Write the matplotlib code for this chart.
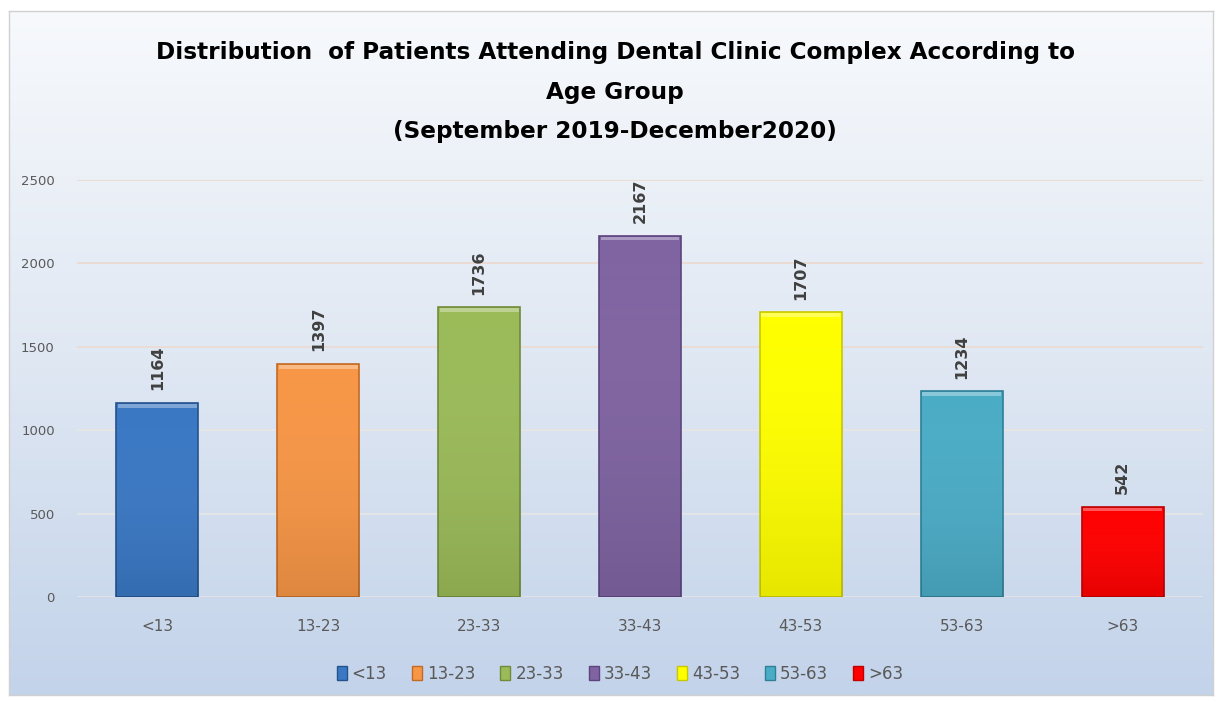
import numpy as np
import matplotlib
matplotlib.use("Agg")
import matplotlib.pyplot as plt
from matplotlib.patches import Rectangle
from matplotlib.colors import LinearSegmentedColormap

# =========================================================
# DATA
# =========================================================
age_groups = ["<13", "13-23", "23-33", "33-43", "43-53", "53-63", ">63"]
patients = [1164, 1397, 1736, 2167, 1707, 1234, 542]
bar_colors = ["#3a78c4", "#f79646", "#9bbb59", "#8064a2", "#ffff00", "#4bacc6", "#ff0000"]
edge_colors = ["#24528c", "#c06a24", "#718b3a", "#5c4480", "#c8c800", "#2f7f96", "#c00000"]
y_ticks = [0, 500, 1000, 1500, 2000, 2500]

title = ("Distribution  of Patients Attending Dental Clinic Complex According to\n"
         "Age Group\n(September 2019-December2020)")

W, H = 1219, 702
fig = plt.figure(figsize=(W / 100, H / 100), dpi=100)
fig.patch.set_facecolor("white")

# =========================================================
# BACKGROUND PANEL WITH VERTICAL GRADIENT
# =========================================================
bx0, by0, bx1, by1 = 9, 11, 1213, 695
bg_ax = fig.add_axes([bx0 / W, 1 - by1 / H, (bx1 - bx0) / W, (by1 - by0) / H])
bg_cmap = LinearSegmentedColormap.from_list("bg", ["#f7f9fc", "#e0e8f3", "#c3d3ea"])
grad = np.linspace(0, 1, 256).reshape(-1, 1)
bg_ax.imshow(grad, aspect="auto", cmap=bg_cmap, extent=[0, 1, 0, 1], origin="upper")
bg_ax.set_xticks([])
bg_ax.set_yticks([])
for s in bg_ax.spines.values():
    s.set_color("#d0d0d0")
    s.set_linewidth(1)

# =========================================================
# BAR CHART
# =========================================================
px0, px1, py_top, py_bot = 77, 1203, 180, 597
ax = fig.add_axes([px0 / W, 1 - py_bot / H, (px1 - px0) / W, (py_bot - py_top) / H])
ax.patch.set_alpha(0)

x = np.arange(len(age_groups))
bar_w = 0.51
bars = ax.bar(x, patients, width=bar_w, color=bar_colors, edgecolor=edge_colors,
              linewidth=1.2, zorder=3)

# simple bevel: lighter strip at the top and a slightly darker base
shade = LinearSegmentedColormap.from_list("s", [(1, 1, 1, 0.0), (0, 0, 0, 0.10)])
for b in bars:
    bx, bw, bh = b.get_x(), b.get_width(), b.get_height()
    ax.imshow(np.linspace(0, 1, 64).reshape(-1, 1), cmap=shade, aspect="auto",
              extent=[bx, bx + bw, 0, bh], origin="upper", zorder=3.5)
    ax.add_patch(Rectangle((bx + 0.01, bh - 28), bw - 0.02, 22,
                           facecolor="white", alpha=0.35, linewidth=0, zorder=4))

for xi, v in zip(x, patients):
    ax.text(xi, v + 75, str(v), rotation=90, ha="center", va="bottom",
            fontsize=11.5, fontweight="bold", color="#404040", zorder=5)

ax.set_xlim(-0.5, len(age_groups) - 0.5)
ax.set_ylim(0, 2500)
ax.set_yticks(y_ticks)
ax.set_yticklabels([str(t) for t in y_ticks], fontsize=9.5, color="#595959")
ax.set_xticks(x)
ax.set_xticklabels(age_groups, fontsize=11, color="#595959")
ax.tick_params(axis="both", length=0)
ax.tick_params(axis="y", pad=16)
ax.tick_params(axis="x", pad=16)
for s in ax.spines.values():
    s.set_visible(False)

for t in y_ticks:
    gc = "#ecd8cc" if t >= 1500 else "#e9e6e4"
    ax.axhline(t, color=gc, linewidth=1.1, zorder=1)

# =========================================================
# TITLE AND LEGEND
# =========================================================
fig.text(615 / W, 1 - 92 / H, title, ha="center", va="center", fontsize=16.7,
         fontweight="bold", color="black", linespacing=1.9)

handles = [Rectangle((0, 0), 1, 1, facecolor=c, edgecolor=e) for c, e in zip(bar_colors, edge_colors)]
fig.legend(handles, age_groups, loc="center", bbox_to_anchor=(620 / W, 1 - 674 / H),
           ncol=len(age_groups), frameon=False, fontsize=12, handlelength=0.6,
           handleheight=0.9, handletextpad=0.3, columnspacing=1.5,
           labelcolor="#595959")

fig.savefig("out.png", dpi=100)
